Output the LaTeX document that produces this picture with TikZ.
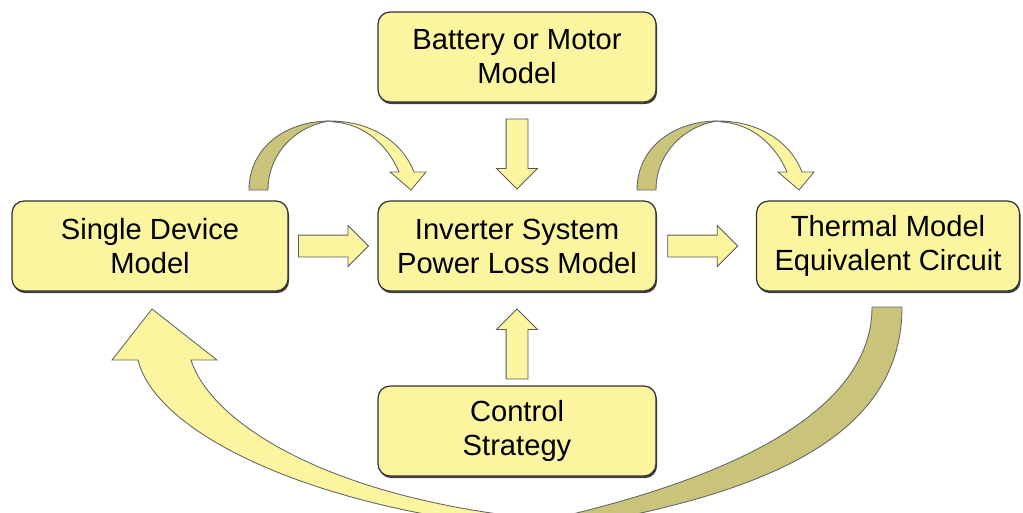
\documentclass[tikz,border=0pt]{standalone}
\usepackage{fontspec}
\setmainfont{Liberation Sans}
\usetikzlibrary{shapes.arrows,shadows,calc}
\definecolor{boxyellow}{RGB}{250,245,158}
\definecolor{olive}{RGB}{201,196,122}
\tikzset{
	model/.style={draw=black!80, line width=0.7pt, fill=boxyellow, rounded corners=0.24cm,
		minimum width=5.56cm, minimum height=1.8cm, align=center,
		font=\fontsize{16.6}{19.4}\selectfont,
		drop shadow={shadow xshift=0.6pt, shadow yshift=-1.2pt, fill=black, opacity=0.75}},
	fatarrow/.style={single arrow, draw=black!65, line width=0.5pt, fill=boxyellow,
		minimum height=1.4cm, minimum width=0.8cm, inner xsep=0pt, inner ysep=0.21cm,
		single arrow head extend=0.19cm, single arrow tip angle=90},
	ribbon/.style={draw=black!60, line width=0.5pt}
}
\begin{document}
\begin{tikzpicture}[x=0.02cm, y=-0.02cm]
	\useasboundingbox (0,0) rectangle (1023,512);
	\node[model] (bat) at (517,57) {Battery or Motor\\Model};
	\node[model, minimum width=5.52cm] (single) at (150,246) {Single Device\\Model};
	\node[model] (inv) at (517,246) {Inverter System\\Power Loss Model};
	\node[model, minimum width=5.26cm] (therm) at (888,246) {Thermal Model\\Equivalent Circuit};
	\node[model] (ctrl) at (517,431) {Control\\Strategy};
	% straight block arrows
	\node[fatarrow, rotate=-90] (a1) at ($(bat.south)!0.5!(inv.north)+(0,-3)$) {};
	\node[fatarrow, rotate=90] (a2) at ($(inv.south)!0.5!(ctrl.north)+(0,11)$) {};
	\node[fatarrow] (a3) at ($(single.east)!0.5!(inv.west)+(-5,0)$) {};
	\node[fatarrow] (a4) at ($(inv.east)!0.5!(therm.west)+(-9,0)$) {};
	% curved arrows on top
	\foreach \dx in {0,388} {
		\begin{scope}[xshift=\dx*0.02cm]
			\filldraw[ribbon, fill=olive] (249,190) .. controls (249,148) and (285,121) .. (330,121)
				.. controls (298,125) and (268,152) .. (268,190) -- cycle;
			\filldraw[ribbon, fill=boxyellow] (330,121) .. controls (372,121) and (403,143) .. (414,172)
				-- (426,172) -- (411,190) -- (390,172) -- (399,172)
				.. controls (388,146) and (365,124) .. (334,122) -- cycle;
		\end{scope}
	}
	% big arrow back to the single device model
	\begin{scope}
		\clip (0,0) rectangle (1023,512);
		\filldraw[ribbon, fill=olive] (872,307) -- (902,307) .. controls (902,430) and (780,490) .. (580,525)
			-- (560,517) .. controls (760,470) and (872,400) .. (872,307);
		\filldraw[ribbon, fill=boxyellow] (138,360) -- (112,360) -- (152,309) -- (217,360) -- (191,360)
			.. controls (210,420) and (320,495) .. (530,518) -- (520,528)
			.. controls (300,505) and (155,430) .. (138,360) -- cycle;
	\end{scope}
\end{tikzpicture}
\end{document}
